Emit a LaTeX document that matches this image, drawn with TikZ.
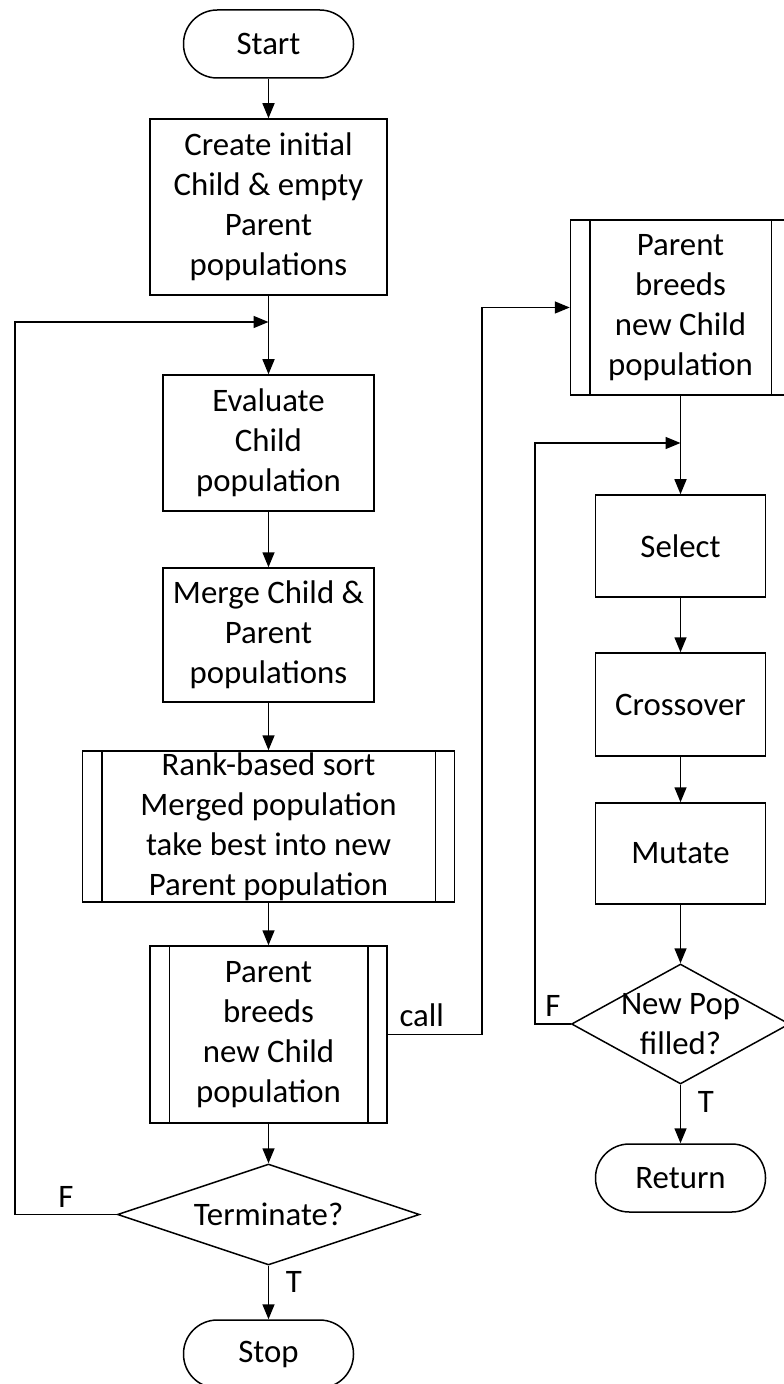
\documentclass[tikz,border=0pt]{standalone}
\usepackage{fontspec}
\setmainfont{Carlito}
\usetikzlibrary{arrows.meta, positioning, shapes.geometric}

\begin{document}
\begin{tikzpicture}[x=0.5pt, y=-0.5pt, ->, >={Triangle[length=7.5pt, width=6pt]},
			line width=0.75pt,
			every node/.style={font=\fontsize{16.4}{20}\selectfont, align=center},
			box/.style={rectangle, draw, inner sep=0pt},
			term/.style={rectangle, draw, rounded corners=16.9pt, minimum width=85pt, minimum height=34pt},
			dec/.style={diamond, draw, inner sep=0pt}]
			
			\useasboundingbox (0,0) rectangle (783,1384);
			
			% Colonna sinistra: ciclo principale
			\node[term] (start) at (268.5,44) {Start};
			\node[box, minimum width=118.5pt, minimum height=88pt] (create) at (268.5,207) {Create initial\\Child \& empty\\Parent\\populations};
			\node[box, minimum width=105.5pt, minimum height=68pt] (eval) at (268.5,443) {Evaluate\\Child\\population};
			\node[box, minimum width=105.5pt, minimum height=67pt] (merge) at (268.5,635) {Merge Child \&\\Parent\\populations};
			\node[box, minimum width=186pt, minimum height=75.5pt] (rank) at (268.5,826.5) {Rank-based sort\\Merged population\\take best into new\\Parent population};
			\node[box, minimum width=118.5pt, minimum height=88.5pt] (breedL) at (268.5,1034.5) {Parent\\breeds\\new Child\\population};
			\node[dec, minimum width=151pt, minimum height=50.5pt, label=center:Terminate?] (termq) at (268.5,1214.5) {};
			\node[term] (stop) at (268.5,1354) {Stop};
			
			% Colonna destra: sottoprocedura
			\node[box, minimum width=110pt, minimum height=87.5pt] (breedR) at (680.5,307.5) {Parent\\breeds\\new Child\\population};
			\node[box, minimum width=85pt, minimum height=51pt] (select) at (680.5,546) {Select};
			\node[box, minimum width=85pt, minimum height=51.5pt] (cross) at (680.5,704.5) {Crossover};
			\node[box, minimum width=85pt, minimum height=50.5pt] (mutate) at (680.5,853.5) {Mutate};
			\node[dec, minimum width=109pt, minimum height=60pt, label={center:{New Pop\\filled?}}] (fillq) at (680.5,1024) {};
			\node[term] (ret) at (680.5,1178) {Return};
			
			% Barre dei processi predefiniti
			\foreach \n in {rank, breedL, breedR}
				\draw[-] ([xshift=10pt]\n.north west) -- ([xshift=10pt]\n.south west)
				([xshift=-10pt]\n.north east) -- ([xshift=-10pt]\n.south east);
			
			% Punti di giunzione e angoli
			\coordinate (jL) at (268.5,322);
			\coordinate (cL) at (15,322);
			\coordinate (jR) at (680.5,443);
			\coordinate (cR) at (535,443);
			\coordinate (cM) at (482,307.5);
			
			% Frecce a sinistra
			\draw (start) -- (create);
			\draw (create) -- (eval);
			\draw (eval) -- (merge);
			\draw (merge) -- (rank);
			\draw (rank) -- (breedL);
			\draw (breedL) -- (termq);
			\draw (termq) -- node[right=5pt, pos=0.3]{T} (stop);
			\draw (termq.west) -| node[pos=0.25, above]{F} (cL) -- (jL);
			
			% Chiamata
			\draw (breedL.east) -| node[pos=0.18, above]{call} (cM) -- (breedR.west);
			
			% Frecce a destra
			\draw (breedR) -- (select);
			\draw (select) -- (cross);
			\draw (cross) -- (mutate);
			\draw (mutate) -- (fillq);
			\draw (fillq) -- node[right=5pt, pos=0.3]{T} (ret);
			\draw (fillq.west) -| node[pos=0.25, above]{F} (cR) -- (jR);
		\end{tikzpicture}
\end{document}
